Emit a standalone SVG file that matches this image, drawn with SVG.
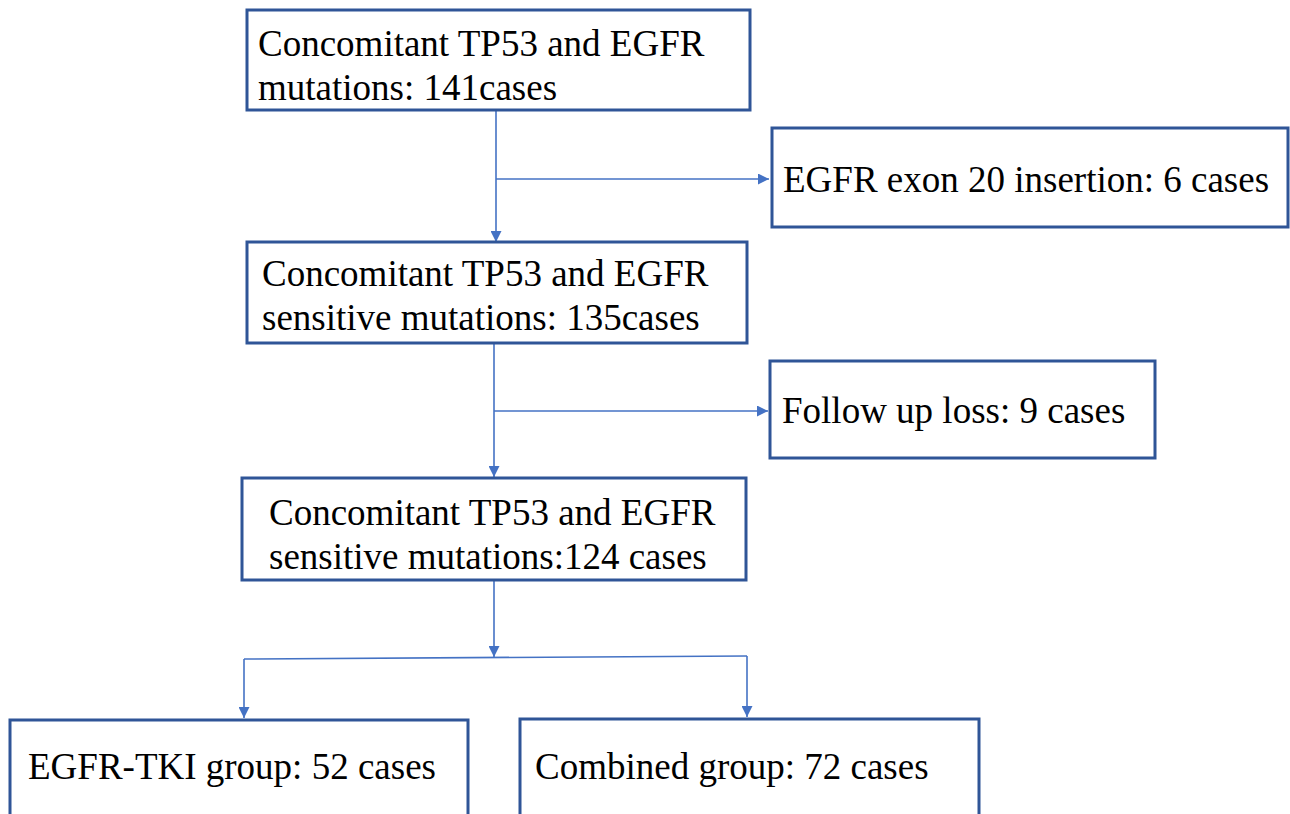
<svg xmlns="http://www.w3.org/2000/svg" width="1290" height="814" viewBox="0 0 1290 814">
<style>
.box{fill:#fff;stroke:#2F5597;stroke-width:3}
.t{font-family:"Liberation Serif","Times New Roman",serif;font-size:37px;fill:#000}
.c{fill:none;stroke:#4472C4;stroke-width:1.6}
</style>
<defs>
<marker id="ah" viewBox="0 0 10 10" refX="10" refY="5" markerWidth="11" markerHeight="11" markerUnits="userSpaceOnUse" orient="auto">
<path d="M0,0 L10,5 L0,10 z" fill="#4472C4"/>
</marker>
</defs>
<rect width="1290" height="814" fill="#fff"/>
<g id="connectors">
<line class="c" x1="496" y1="111" x2="496" y2="242" marker-end="url(#ah)"/>
<line class="c" x1="496" y1="179" x2="769" y2="179" marker-end="url(#ah)"/>
<line class="c" x1="494" y1="344" x2="494" y2="477" marker-end="url(#ah)"/>
<line class="c" x1="494" y1="411" x2="768" y2="411" marker-end="url(#ah)"/>
<line class="c" x1="494" y1="581" x2="494" y2="657" marker-end="url(#ah)"/>
<polyline class="c" points="244,659 747,656"/>
<line class="c" x1="244" y1="659" x2="244" y2="718" marker-end="url(#ah)"/>
<line class="c" x1="747" y1="656" x2="747" y2="717" marker-end="url(#ah)"/>
</g>
<g id="n1">
<rect class="box" x="247" y="10" width="503" height="100"/>
<text class="t" x="258" y="56">Concomitant TP53 and EGFR</text>
<text class="t" x="258" y="100">mutations: 141cases</text>
</g>
<g id="n2">
<rect class="box" x="772" y="128" width="516" height="99"/>
<text class="t" x="783" y="192">EGFR exon 20 insertion: 6 cases</text>
</g>
<g id="n3">
<rect class="box" x="247" y="242" width="500" height="101"/>
<text class="t" x="262" y="286">Concomitant TP53 and EGFR</text>
<text class="t" x="262" y="330">sensitive mutations: 135cases</text>
</g>
<g id="n4">
<rect class="box" x="770" y="361" width="385" height="97"/>
<text class="t" x="782" y="423">Follow up loss: 9 cases</text>
</g>
<g id="n5">
<rect class="box" x="242" y="478" width="504" height="102"/>
<text class="t" x="269" y="525">Concomitant TP53 and EGFR</text>
<text class="t" x="269" y="569">sensitive mutations:124 cases</text>
</g>
<g id="n6">
<rect class="box" x="10" y="720" width="458" height="110"/>
<text class="t" x="28" y="779">EGFR-TKI group: 52 cases</text>
</g>
<g id="n7">
<rect class="box" x="520" y="719" width="459" height="110"/>
<text class="t" x="535" y="779">Combined group: 72 cases</text>
</g>
</svg>
